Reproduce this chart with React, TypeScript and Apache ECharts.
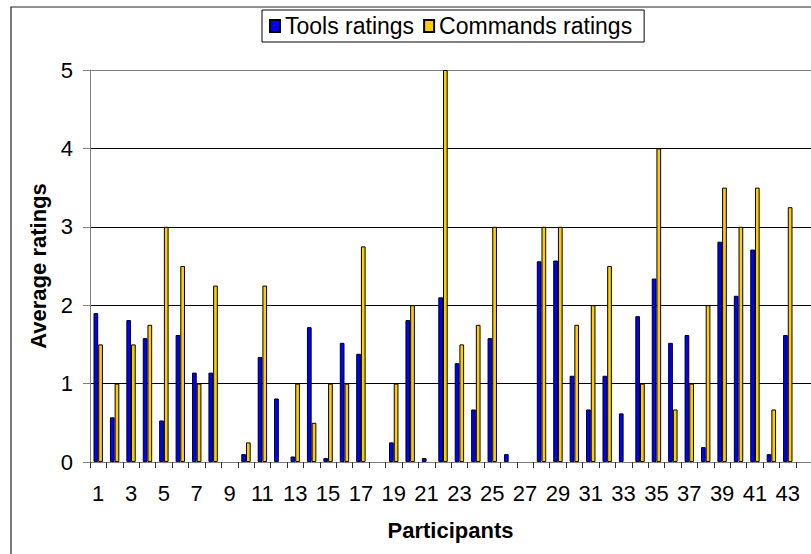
import React, { useEffect, useRef } from "react";
import * as echarts from "echarts";

const participants = [
  "1", "2", "3", "4", "5", "6", "7", "8", "9", "10",
  "11", "12", "13", "14", "15", "16", "17", "18", "19", "20",
  "21", "22", "23", "24", "25", "26", "27", "28", "29", "30",
  "31", "32", "33", "34", "35", "36", "37", "38", "39", "40",
  "41", "42", "43",
];

const toolsRatings = [
  1.9, 0.57, 1.81, 1.58, 0.53, 1.62, 1.14, 1.14, 0, 0.1,
  1.34, 0.81, 0.07, 1.72, 0.05, 1.52, 1.38, 0, 0.25, 1.81,
  0.05, 2.1, 1.26, 0.67, 1.58, 0.1, 0, 2.56, 2.57, 1.1,
  0.67, 1.1, 0.62, 1.86, 2.34, 1.52, 1.62, 0.19, 2.81, 2.12,
  2.71, 0.1, 1.62,
];

const commandsRatings = [
  1.5, 1, 1.5, 1.75, 3, 2.5, 1, 2.25, 0, 0.25,
  2.25, 0, 1, 0.5, 1, 1, 2.75, 0, 1, 2,
  0, 5, 1.5, 1.75, 3, 0, 0, 3, 3, 1.75,
  2, 2.5, 0, 1, 4, 0.67, 1, 2, 3.5, 3,
  3.5, 0.67, 3.25,
];

const seriesNames = ["Tools ratings", "Commands ratings"];
const seriesColors = ["#0000FF", "#FFCC00"];

const FONT = "'Liberation Sans', Arial, Helvetica, sans-serif";

// zero ratings draw no bar at all in the reference
const toBarData = (arr: number[]) => arr.map((v) => (v === 0 ? null : v));

export default function App() {
  const ref = useRef<HTMLDivElement>(null);

  useEffect(() => {
    if (!ref.current) return;
    const chart = echarts.init(ref.current, undefined, { renderer: "svg" });
    const option: any = {
      animation: false,
      backgroundColor: "#ffffff",
      textStyle: { fontFamily: FONT },
      graphic: [
        {
          type: "rect",
          shape: { x: 11, y: 7, width: 840, height: 600 },
          style: { fill: "none", stroke: "#222", lineWidth: 1.2 },
          silent: true,
          z: 10,
        },
      ],
      legend: {
        left: 262,
        top: 10,
        orient: "horizontal",
        backgroundColor: "#fff",
        borderColor: "#000",
        borderWidth: 1,
        padding: [4, 12, 4, 7],
        itemGap: 9,
        itemWidth: 10,
        itemHeight: 12,
        icon: "rect",
        textStyle: { fontSize: 23, color: "#000", fontFamily: FONT, lineHeight: 24 },
        data: seriesNames,
      },
      grid: [
        { left: 90, right: 15, top: 70, bottom: 92, containLabel: false },
        { left: 90, right: 0, top: 70, bottom: 92, containLabel: false },
      ],
      xAxis: [
        {
          type: "category",
          gridIndex: 0,
          data: participants,
          boundaryGap: true,
          axisLine: { show: true, lineStyle: { color: "#808080", width: 1 } },
          axisTick: { show: true, interval: 0, length: 6, lineStyle: { color: "#333" } },
          axisLabel: {
            interval: 1,
            fontSize: 22,
            color: "#000",
            margin: 20,
            fontFamily: FONT,
          },
          splitLine: { show: false },
        },
        {
          type: "value",
          gridIndex: 1,
          min: 0,
          max: 1,
          axisLine: { show: true, onZero: false, lineStyle: { color: "#808080", width: 1 } },
          axisTick: { show: false },
          axisLabel: { show: false },
          splitLine: { show: false },
          name: "Participants",
          nameLocation: "middle",
          nameGap: 57,
          nameTextStyle: { fontSize: 22, fontWeight: "bold", color: "#000", fontFamily: FONT },
        },
      ],
      yAxis: [
        {
          type: "value",
          gridIndex: 0,
          min: 0,
          max: 5,
          interval: 1,
          axisLine: { show: true, lineStyle: { color: "#808080", width: 1 } },
          axisTick: { show: true, length: 7, lineStyle: { color: "#808080" } },
          axisLabel: { fontSize: 22, color: "#000", margin: 17, fontFamily: FONT },
          splitLine: { show: false },
          name: "Average ratings",
          nameLocation: "middle",
          nameRotate: 90,
          nameGap: 38,
          nameTextStyle: { fontSize: 22, fontWeight: "bold", color: "#000", fontFamily: FONT },
        },
        {
          type: "value",
          gridIndex: 1,
          min: 0,
          max: 5,
          interval: 1,
          axisLine: { show: false },
          axisTick: { show: false },
          axisLabel: { show: false },
          splitLine: {
            show: true,
            lineStyle: {
              color: ["#000", "#000", "#000", "#000", "#000", "#808080"],
              width: 1,
            },
          },
        },
      ],
      series: [
        {
          name: seriesNames[0],
          type: "bar",
          xAxisIndex: 0,
          yAxisIndex: 0,
          data: toBarData(toolsRatings),
          barWidth: 4.7,
          barGap: "0%",
          itemStyle: { color: seriesColors[0], borderColor: "#000", borderWidth: 1 },
        },
        {
          name: seriesNames[1],
          type: "bar",
          xAxisIndex: 0,
          yAxisIndex: 0,
          data: toBarData(commandsRatings),
          barWidth: 4.7,
          barGap: "0%",
          itemStyle: { color: seriesColors[1], borderColor: "#000", borderWidth: 1 },
        },
      ],
    };
    chart.setOption(option);
    return () => chart.dispose();
  }, []);

  return (
    <div
      ref={ref}
      style={{ position: "fixed", left: 0, top: 0, width: 811, height: 554, background: "#fff" }}
    />
  );
}
